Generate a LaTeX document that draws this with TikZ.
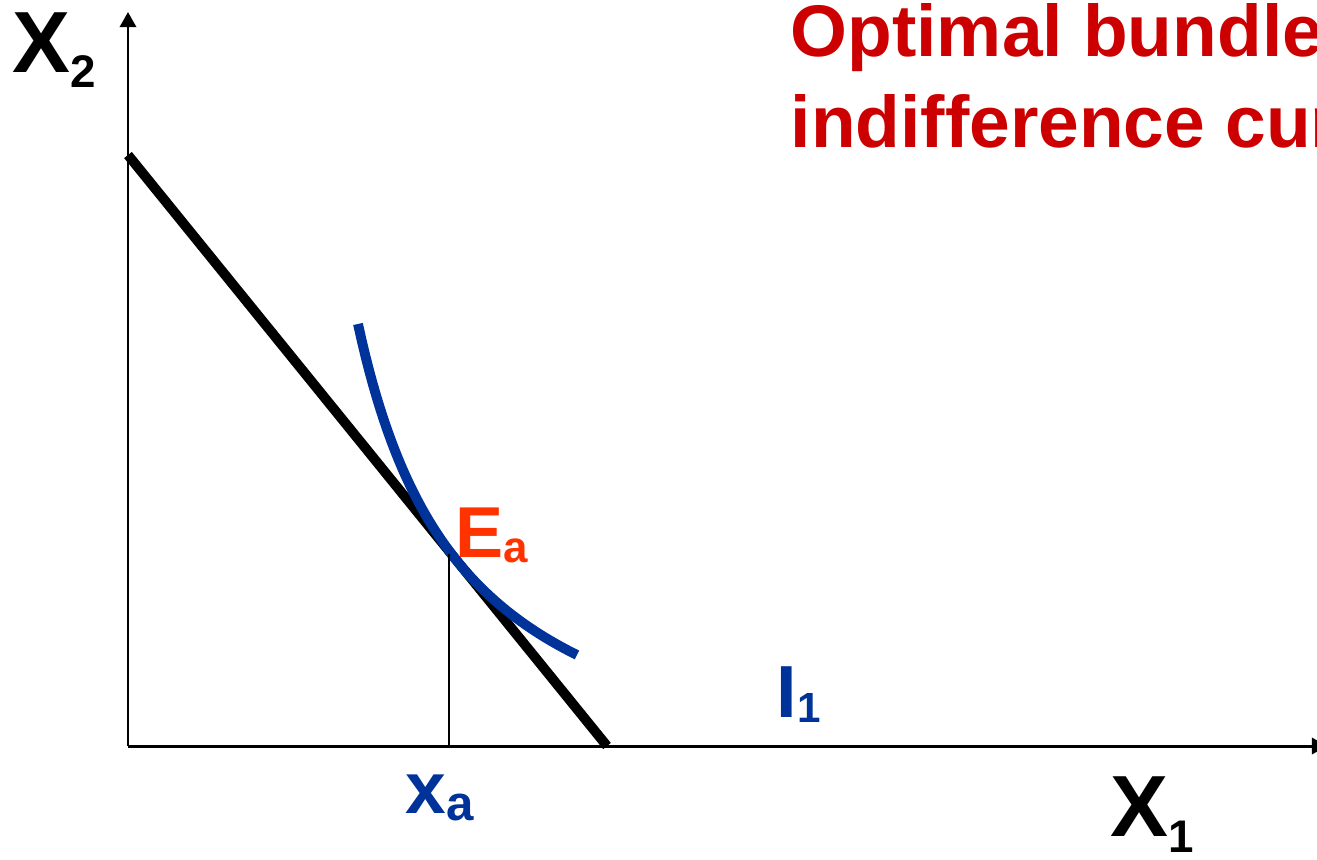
\documentclass[tikz,border=0pt]{standalone}
\usepackage{fontspec}
\setmainfont{Liberation Sans}
\usetikzlibrary{arrows.meta}
\definecolor{titlered}{RGB}{204,0,0}
\definecolor{pointorange}{RGB}{255,51,0}
\definecolor{curveblue}{RGB}{0,51,153}
% big letter + lowered small index
\newcommand{\sublbl}[5]{{\fontsize{#1}{#1}\selectfont #2}{\fontsize{#3}{#3}\selectfont\raisebox{-#5}{#4}}}

\begin{document}
\begin{tikzpicture}[x=0.01cm, y=-0.01cm,
  axis/.style={line width=0.85pt, -{Triangle[length=4.3pt, width=4.6pt]}},
  budget/.style={line width=2.8pt},
  icurve/.style={line width=2.8pt, draw=curveblue},
  dropline/.style={line width=0.6pt},
  lbl/.style={anchor=base west, inner sep=0pt, font=\bfseries}
]
\useasboundingbox (0,0) rectangle (1317,859);

% axes
\coordinate (o) at (128,746);
\coordinate (ytop) at (128,12);
\coordinate (xend) at (1327,746);
\draw[axis] (o) -- (ytop);
\draw[axis] (o) -- (xend);

% budget line
\coordinate (bl0) at (128,155);
\coordinate (bl1) at (607,746);
\draw[budget] (bl0) -- (bl1);

% indifference curve
\draw[icurve, domain=358:577, samples=60] plot (\x, {815.9-523.9/((\x-251.5)/100)});

% optimum and drop line
\coordinate (ea) at (449,554);
\coordinate (xa) at (449,746);
\draw[dropline] (ea) -- (xa);

% labels
\node[lbl] (x2lbl) at (12,72) {\sublbl{24.7}{X}{13}{2}{4.5pt}};
\node[lbl] (x1lbl) at (1110,836) {\sublbl{24.7}{X}{13}{1}{4.8pt}};
\node[lbl, text=pointorange] (ealbl) at (455,557) {\sublbl{20.5}{E}{12.5}{a}{1.7pt}};
\node[lbl, text=curveblue] (xalbl) at (405,813) {\sublbl{20.8}{x}{14}{a}{2pt}};
\node[lbl, text=curveblue] (i1lbl) at (776,717) {\sublbl{21}{I}{12}{1}{1.7pt}};

% title
\node[lbl, text=titlered, font=\bfseries\fontsize{20.8}{20.8}\selectfont] (title1) at (790,56) {Optimal bundle};
\node[lbl, text=titlered, font=\bfseries\fontsize{20.8}{20.8}\selectfont] (title2) at (790,147) {indifference curve};
\end{tikzpicture}
\end{document}
